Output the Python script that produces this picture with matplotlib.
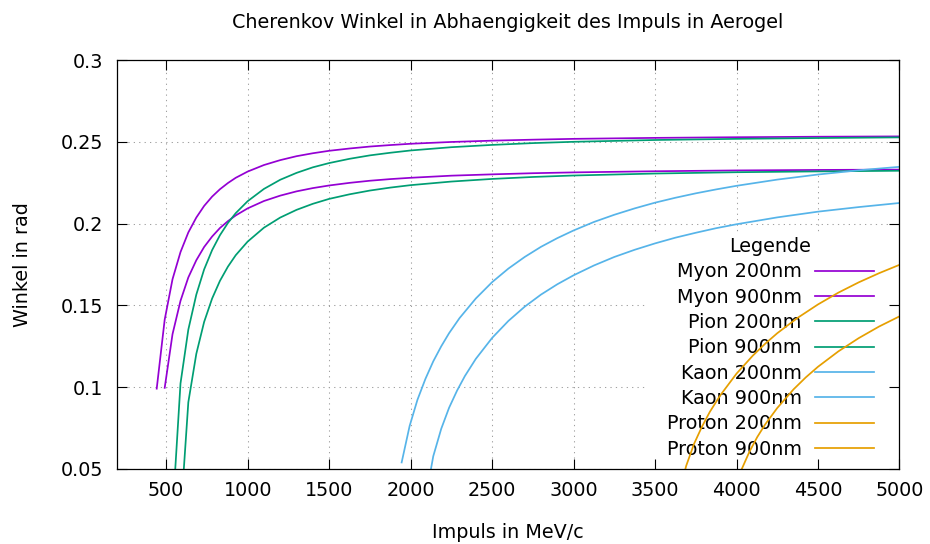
import matplotlib
matplotlib.use('Agg')
import matplotlib.pyplot as plt
from matplotlib.patches import Rectangle

# values (momentum in MeV/c, angle in rad)
myon_200_p = [442, 491, 539, 588, 636, 685, 733, 782, 830, 879, 927, 1000, 1100, 1200, 1300, 1400, 1500,
              1625, 1750, 1875, 2000, 2250, 2500, 2750, 3000, 3500, 4000, 4500, 5000]
myon_200_theta = [0.0991, 0.1413, 0.1660, 0.1826, 0.1946, 0.2037, 0.2108, 0.2165, 0.2210, 0.2248, 0.2280,
                  0.2318, 0.2358, 0.2388, 0.2412, 0.2430, 0.2445, 0.2459, 0.2471, 0.2480, 0.2488, 0.2499,
                  0.2507, 0.2513, 0.2518, 0.2524, 0.2528, 0.2531, 0.2533]
myon_900_p = [491, 539, 588, 636, 685, 733, 782, 830, 879, 927, 1000, 1100, 1200, 1300, 1400, 1500,
              1625, 1750, 1875, 2000, 2250, 2500, 2750, 3000, 3500, 4000, 4500, 5000]
myon_900_theta = [0.0996, 0.1324, 0.1528, 0.1671, 0.1776, 0.1857, 0.1921, 0.1973, 0.2015, 0.2050, 0.2093,
                  0.2138, 0.2171, 0.2197, 0.2217, 0.2233, 0.2249, 0.2262, 0.2272, 0.2280, 0.2293, 0.2301,
                  0.2308, 0.2313, 0.2320, 0.2325, 0.2328, 0.2330]
pion_200_p = [539, 588, 636, 685, 733, 782, 830, 879, 927, 1000, 1100, 1200, 1300, 1400, 1500,
              1625, 1750, 1875, 2000, 2250, 2500, 2750, 3000, 3500, 4000, 4500, 5000]
pion_200_theta = [0.0227, 0.1023, 0.1352, 0.1566, 0.1720, 0.1838, 0.1929, 0.2004, 0.2064, 0.2137, 0.2212,
                  0.2268, 0.2310, 0.2344, 0.2370, 0.2396, 0.2417, 0.2433, 0.2447, 0.2467, 0.2481, 0.2492,
                  0.2500, 0.2511, 0.2518, 0.2523, 0.2527]
pion_900_p = [588, 636, 685, 733, 782, 830, 879, 927, 1000, 1100, 1200, 1300, 1400, 1500,
              1625, 1750, 1875, 2000, 2250, 2500, 2750, 3000, 3500, 4000, 4500, 5000]
pion_900_theta = [0.0200, 0.0908, 0.1204, 0.1399, 0.1542, 0.1650, 0.1737, 0.1807, 0.1890, 0.1975, 0.2037,
                  0.2084, 0.2121, 0.2151, 0.2179, 0.2202, 0.2220, 0.2235, 0.2257, 0.2273, 0.2285, 0.2294,
                  0.2306, 0.2314, 0.2319, 0.2323]
kaon_200_p = [1945, 1994, 2042, 2091, 2139, 2188, 2236, 2300, 2400, 2500, 2600, 2700, 2800, 2900, 3000,
              3125, 3250, 3375, 3500, 3625, 3750, 3875, 4000, 4250, 4500, 4750, 5000]
kaon_200_theta = [0.0540, 0.0763, 0.0923, 0.1051, 0.1158, 0.1250, 0.1330, 0.1422, 0.1542, 0.1642, 0.1725,
                  0.1796, 0.1858, 0.1911, 0.1958, 0.2010, 0.2054, 0.2093, 0.2128, 0.2158, 0.2185, 0.2209,
                  0.2231, 0.2269, 0.2300, 0.2326, 0.2347]
kaon_900_p = [2091, 2139, 2188, 2236, 2285, 2333, 2400, 2500, 2600, 2700, 2800, 2900, 3000, 3125, 3250,
              3375, 3500, 3625, 3750, 3875, 4000, 4250, 4500, 4750, 5000]
kaon_900_theta = [0.0313, 0.0578, 0.0746, 0.0874, 0.0979, 0.1068, 0.1173, 0.1301, 0.1405, 0.1492, 0.1566,
                  0.1629, 0.1684, 0.1744, 0.1796, 0.1840, 0.1879, 0.1914, 0.1944, 0.1972, 0.1996, 0.2038,
                  0.2073, 0.2101, 0.2126]
proton_200_p = [3642, 3691, 3739, 3788, 3836, 3900, 4000, 4100, 4176, 4250, 4375, 4500, 4625, 4750, 4875, 5000]
proton_200_theta = [0.0327, 0.0519, 0.0653, 0.0759, 0.0849, 0.0950, 0.1083, 0.1193, 0.1266, 0.1330, 0.1424,
                    0.1506, 0.1578, 0.1641, 0.1697, 0.1748]
proton_900_p = [3982, 4030, 4079, 4127, 4176, 4250, 4350, 4425, 4500, 4625, 4750, 4875, 5000]
proton_900_theta = [0.0345, 0.0495, 0.0605, 0.0695, 0.0773, 0.0873, 0.0987, 0.1060, 0.1125, 0.1219, 0.1300,
                    0.1371, 0.1433]

x_ticks = [500, 1000, 1500, 2000, 2500, 3000, 3500, 4000, 4500, 5000]
y_ticks = [0.05, 0.1, 0.15, 0.2, 0.25, 0.3]
y_tick_labels = ['0.05', '0.1', '0.15', '0.2', '0.25', '0.3']

curves = [
    ('Myon 200nm', myon_200_p, myon_200_theta, '#9400d3'),
    ('Myon 900nm', myon_900_p, myon_900_theta, '#9400d3'),
    ('Pion 200nm', pion_200_p, pion_200_theta, '#009e73'),
    ('Pion 900nm', pion_900_p, pion_900_theta, '#009e73'),
    ('Kaon 200nm', kaon_200_p, kaon_200_theta, '#56b4e9'),
    ('Kaon 900nm', kaon_900_p, kaon_900_theta, '#56b4e9'),
    ('Proton 200nm', proton_200_p, proton_200_theta, '#e69f00'),
    ('Proton 900nm', proton_900_p, proton_900_theta, '#e69f00'),
]

FS = 13.8
plt.rcParams['font.family'] = ['DejaVu Sans']

fig = plt.figure(figsize=(9.3, 5.44), dpi=100)
ax = fig.add_axes([0.1261, 0.1379, 0.8411, 0.7518])
ax.set_xlim(200, 5000)
ax.set_ylim(0.05, 0.3)

# dotted grid, drawn by hand so the key area can blank it out
ax.vlines(x_ticks, 0.05, 0.3, colors='#a0a0a0', linewidth=0.75, linestyles=(0, (1.2, 4.0)), zorder=0.8)
ax.hlines(y_ticks, 200, 5000, colors='#a0a0a0', linewidth=0.75, linestyles=(0, (1.2, 4.0)), zorder=0.8)
ax.add_patch(Rectangle((0.6785, 0.0), 0.3215, 0.5746, transform=ax.transAxes,
                       facecolor='white', edgecolor='none', zorder=1))

for label, p, theta, color in curves:
    ax.plot(p, theta, color=color, linewidth=1.25, label=label, zorder=2)

ax.set_xticks(x_ticks)
ax.set_xticklabels([str(t) for t in x_ticks], fontsize=FS)
ax.set_yticks(y_ticks)
ax.set_yticklabels(y_tick_labels, fontsize=FS)
ax.tick_params(direction='in', length=7.2, width=0.8, top=True, right=True, color='black')
ax.tick_params(axis='x', pad=9)
ax.tick_params(axis='y', pad=10)
for s in ax.spines.values():
    s.set_linewidth(0.9)
ax.set_axisbelow(False)

leg = ax.legend(loc='lower right', bbox_to_anchor=(0.9674, 0.025), frameon=False,
                markerfirst=False, fontsize=FS, title='Legende', title_fontsize=FS,
                handlelength=3.08, handletextpad=0.7, labelspacing=0.33,
                borderpad=0, borderaxespad=0)
leg.set_zorder(1.5)

fig.text(508 / 930, 1 - 22 / 544, 'Cherenkov Winkel in Abhaengigkeit des Impuls in Aerogel',
         ha='center', va='center', fontsize=FS)
fig.text(508 / 930, 1 - 532 / 544, 'Impuls in MeV/c', ha='center', va='center', fontsize=FS)
fig.text(22 / 930, 1 - 265 / 544, 'Winkel in rad', ha='center', va='center', rotation=90, fontsize=FS)

fig.savefig('out.png', dpi=100)
